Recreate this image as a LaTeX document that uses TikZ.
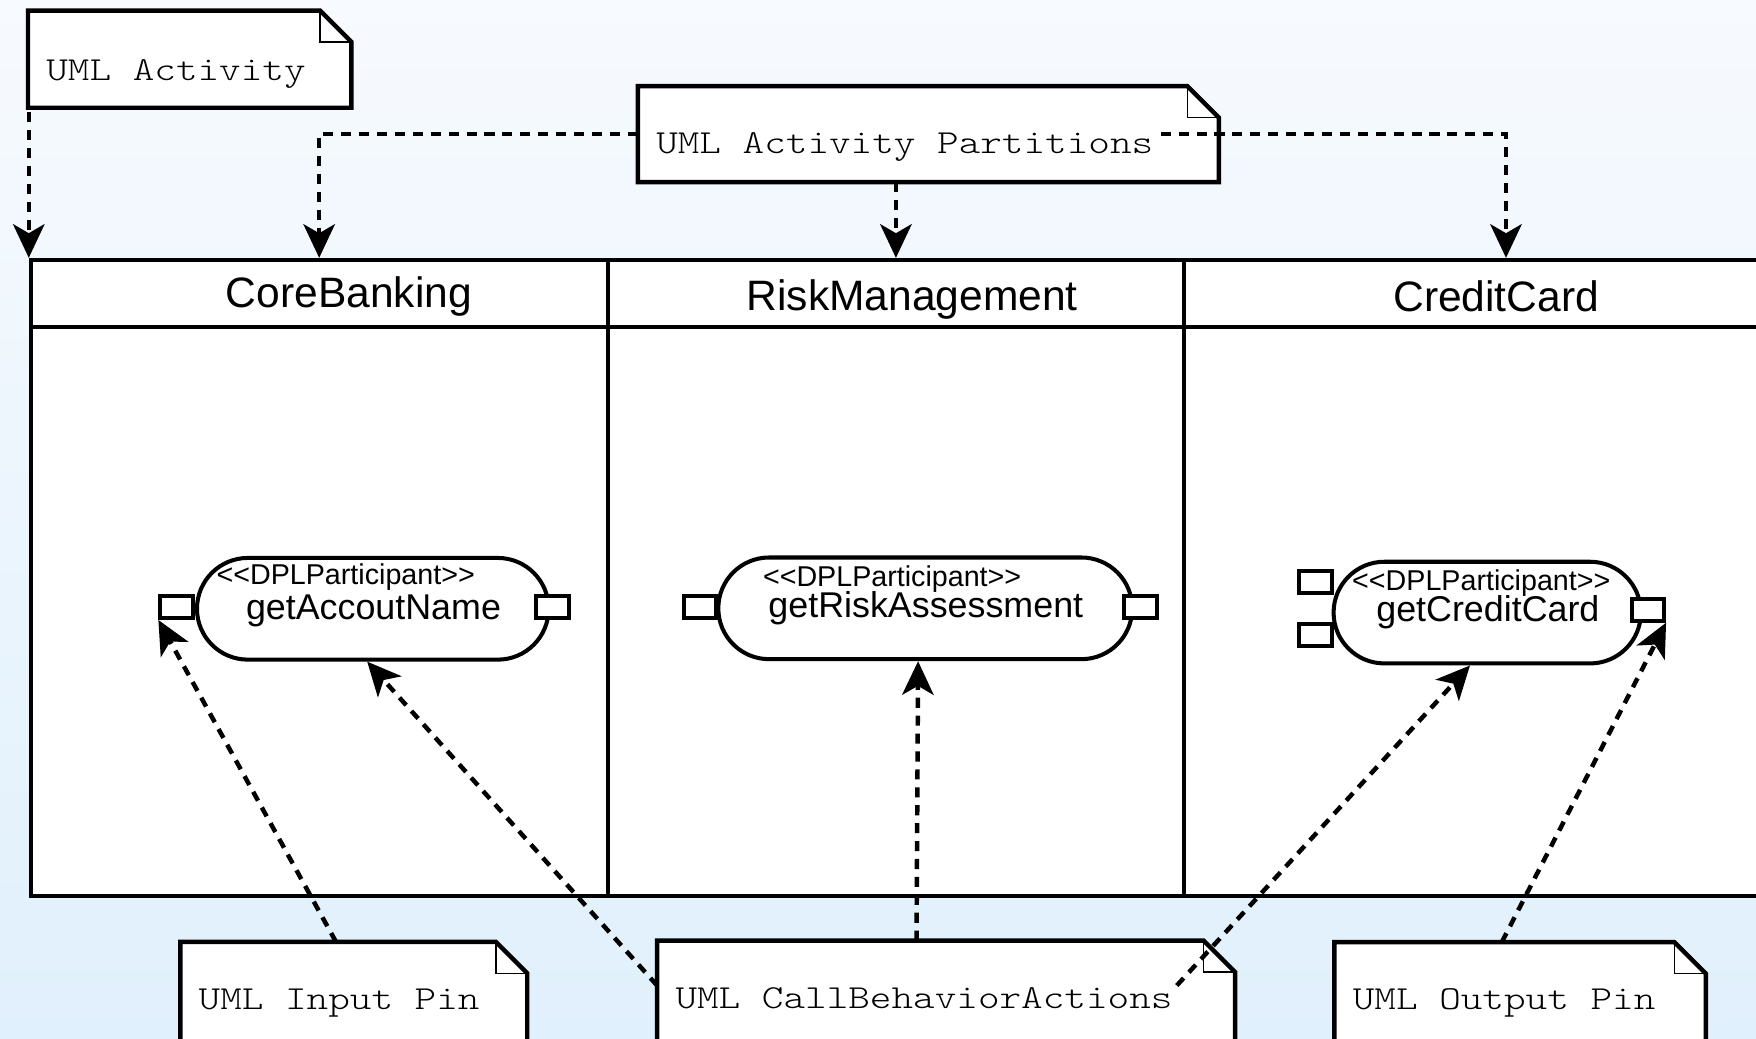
\documentclass[tikz,border=0pt]{standalone}
\usepackage{xcolor}
\usepackage{tikz}
\usepackage{fontspec}
\setmainfont{Liberation Sans}
\newfontfamily\notefont{lmmonolt10-regular.otf}[FakeStretch=1.225]
\usetikzlibrary{arrows.meta}
\usetikzlibrary{shapes.misc}
\usetikzlibrary{calc}

\definecolor{bgtop}{HTML}{F7FAFE}
\definecolor{bgbottom}{HTML}{E0F0FC}

\pgfdeclarelayer{back}
\pgfdeclarelayer{paper}
\pgfsetlayers{back,paper,main}

\newcommand{\dplst}{<\kern0pt<DPLParticipant>\kern0pt>}

\tikzset{
  lane/.style={draw, line width=1.8pt, fill=white, inner sep=0pt},
  lanetitle/.style={font=\fontsize{19}{23}\selectfont, anchor=base, inner sep=0pt},
  action/.style={draw, rounded rectangle, line width=1.8pt, fill=white, inner sep=0pt, minimum height=45.4pt},
  pin/.style={draw, line width=1.8pt, fill=white, inner sep=0pt, minimum width=14.5pt, minimum height=9.8pt},
  stereo/.style={font=\fontsize{12.8}{15}\selectfont, anchor=base, inner sep=0pt},
  acname/.style={font=\fontsize{16}{19}\selectfont, anchor=base, inner sep=0pt},
  umlnote/.style={anchor=north west, inner xsep=8pt, inner ysep=0pt, align=left, text height=30pt,
    font=\notefont\fontsize{15}{18}\selectfont, execute at begin node={\spaceskip=9.65pt\relax}},
  notedge/.style={line width=2pt, line join=miter},
  link/.style={draw, line width=2pt, dash pattern=on 4.5pt off 3.5pt, -{Stealth[length=15pt,width=14pt,inset=4pt]}}
}

\begin{document}
\begin{tikzpicture}[x=0.5pt, y=-0.5pt]
        \useasboundingbox (0,0) rectangle (1568,927);
        \begin{pgfonlayer}{back}
        \shade[top color=bgtop, bottom color=bgbottom] (0,0) rectangle (1568,927);
        \end{pgfonlayer}

        % partitions
        \node[lane, minimum width=257.5pt, minimum height=29.85pt] (h1) at (285,261.9) {};
        \node[lane, minimum width=257.5pt, minimum height=29.85pt] (h2) at (800,261.9) {};
        \node[lane, minimum width=287.25pt, minimum height=29.85pt] (h3) at (1344.75,261.9) {};
        \node[lane, minimum width=257.5pt, minimum height=254.15pt] (b1) at (285,545.85) {};
        \node[lane, minimum width=257.5pt, minimum height=254.15pt] (b2) at (800,545.85) {};
        \node[lane, minimum width=287.25pt, minimum height=254.15pt] (b3) at (1344.75,545.85) {};
        \node[lanetitle] (t1) at (311.5,275) {CoreBanking};
        \node[lanetitle] (t2) at (814.5,277) {RiskManagement};
        \node[lanetitle] (t3) at (1336,278) {CreditCard};

        % actions and pins
        \node[action, minimum width=157pt] (acc) at (332.9,543.6) {};
        \node[action, minimum width=184.8pt] (risk) at (826.2,543.2) {};
        \node[action, minimum width=137.2pt] (card) at (1328,547) {};
        \node[stereo] (st1) at (308.7,522) {\dplst};
        \node[acname] (nm1) at (333.5,553) {getAccoutName};
        \node[stereo] (st2) at (796.6,523.8) {\dplst};
        \node[acname] (nm2) at (826.7,551.2) {getRiskAssessment};
        \node[stereo] (st3) at (1322.7,527.7) {\dplst};
        \node[acname] (nm3) at (1328.6,555) {getCreditCard};
        \node[pin] (pa1) at (157.7,542) {};
        \node[pin] (pa2) at (493.3,542) {};
        \node[pin] (pr1) at (624.9,541.7) {};
        \node[pin] (pr2) at (1018.4,541.7) {};
        \node[pin] (pc1) at (1174.8,520) {};
        \node[pin] (pc2) at (1174.8,567) {};
        \node[pin] (pc3) at (1471.4,544.4) {};

        % notes
        \node[umlnote, text width=128pt, text height=31pt, text depth=12pt] (act) at (25,9.4) {UML Activity};
        \node[umlnote, text width=243pt, text depth=12.4pt] (part) at (569.6,77) {UML Activity Partitions};
        \node[umlnote, text width=138.5pt, text depth=40pt] (inp) at (161,841) {UML Input Pin};
        \node[umlnote, text width=241.6pt, text depth=40pt] (cba) at (586.8,840) {UML CallBehaviorActions};
        \node[umlnote, text width=149.4pt, text depth=40pt] (outp) at (1191.6,841.3) {UML Output Pin};
        \begin{pgfonlayer}{paper}
        \foreach \n in {act,part,inp,cba,outp}
        {
          \filldraw[notedge, fill=white] (\n.north west) -- ([xshift=-14pt]\n.north east)
            -- ([yshift=-14pt]\n.north east) -- (\n.south east) -- (\n.south west) -- cycle;
          \draw[line width=0.6pt] ([xshift=-14pt]\n.north east) |- ([yshift=-14pt]\n.north east);
        }
        \end{pgfonlayer}

        % dependencies
        \draw[link] ($(act.south west -| h1.north west)+(0,4)$) -- (h1.north west);
        \draw[link] (part.west) -| (h1.north);
        \draw[link] (part.south -| h2.north) -- (h2.north);
        \draw[link] ([xshift=-26pt]part.east) -| (h3.north);
        \draw[link] ([xshift=69.5pt]inp.north west) -- (pa1.south west);
        \draw[link] ([yshift=-20pt]cba.north west) -- ([xshift=-2.5pt]acc.south);
        \draw[link] ([xshift=-13.2pt]cba.north) -- ([xshift=-3.2pt]risk.south);
        \draw[link] ([xshift=-26pt,yshift=-20pt]cba.north east) -- ([xshift=-7.7pt]card.south);
        \draw[link] ([xshift=74.7pt]outp.north west) -- (pc3.south east);
\end{tikzpicture}
\end{document}
